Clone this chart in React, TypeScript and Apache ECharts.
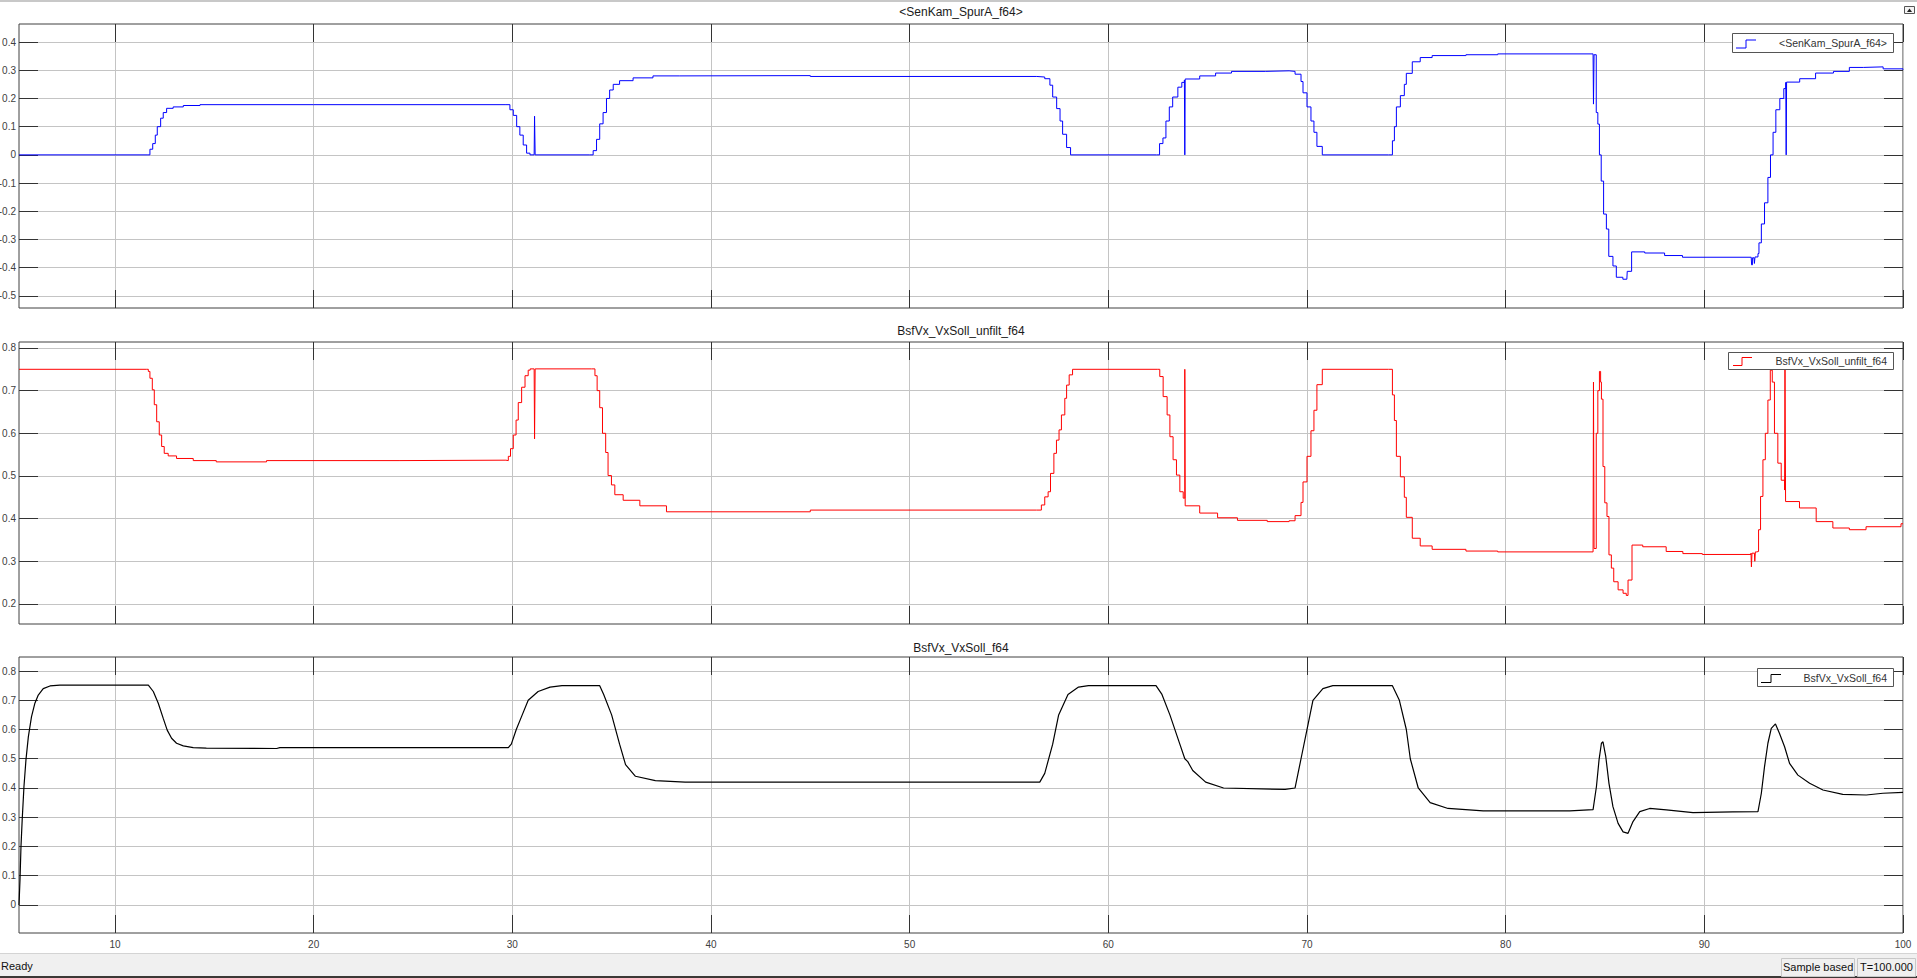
import React, { useEffect, useRef } from "react";
import * as echarts from "echarts";

// ---------- axis setup ----------
const X_MIN = 5.17;
const X_MAX = 100;
const xTickValues = [10, 20, 30, 40, 50, 60, 70, 80, 90, 100];

const panelTitles = ["<SenKam_SpurA_f64>", "BsfVx_VxSoll_unfilt_f64", "BsfVx_VxSoll_f64"];
const legendNames = ["<SenKam_SpurA_f64>", "BsfVx_VxSoll_unfilt_f64", "BsfVx_VxSoll_f64"];

const yTicks1 = [-0.5, -0.4, -0.3, -0.2, -0.1, 0, 0.1, 0.2, 0.3, 0.4];
const yTicks2 = [0.2, 0.3, 0.4, 0.5, 0.6, 0.7, 0.8];
const yTicks3 = [0, 0.1, 0.2, 0.3, 0.4, 0.5, 0.6, 0.7, 0.8];
const yRange1 = [-0.543, 0.464];
const yRange2 = [0.153, 0.814];
const yRange3 = [-0.096, 0.848];

// ---------- series 1: <SenKam_SpurA_f64> (blue) ----------
const blueT = [
  5.17, 11.66, 11.76, 11.9, 12.03, 12.13, 12.3, 12.43, 12.6, 12.93, 13.44, 14.28, 20, 29.68,
  29.88, 30.05, 30.22, 30.38, 30.55, 30.72, 30.89, 31.1, 31.12, 31.15, 33.9, 34.07, 34.24,
  34.4, 34.57, 34.74, 34.9, 35.08, 35.4, 36.08, 37.08, 38.43, 45, 56.4, 56.8, 57.06, 57.2,
  57.4, 57.57, 57.7, 57.9, 58.1, 62.42, 62.58, 62.75, 62.9, 63.07, 63.24, 63.5, 63.7, 63.83,
  63.85, 63.87, 64.6, 65.4, 66.2, 67.9, 69.1, 69.4, 69.7, 69.8, 70.0, 70.2, 70.35, 70.5,
  70.77, 74.1, 74.3, 74.4, 74.5, 74.7, 74.9, 75.0, 75.3, 75.7, 76.3, 78, 79.6, 84.4, 84.42,
  84.45, 84.56, 84.64, 84.72, 84.81, 84.93, 85.07, 85.19, 85.4, 85.57, 85.9, 86.1, 86.12,
  86.34, 87.0, 88.0, 88.9, 92.36, 92.38, 92.42, 92.5, 92.52, 92.55, 92.7, 92.75, 92.87,
  93.03, 93.2, 93.33, 93.46, 93.6, 93.8, 94.0, 94.1, 94.12, 94.14, 94.8, 95.6, 96.5, 97.3,
  98.0, 99.0, 100,
];
const blueV = [
  0, 0, 0.02, 0.04, 0.07, 0.1, 0.13, 0.15, 0.165, 0.17, 0.175, 0.178, 0.178, 0.178,
  0.16, 0.14, 0.1, 0.07, 0.035, 0.006, 0, 0, 0.137, 0, 0, 0.015, 0.055,
  0.11, 0.15, 0.2, 0.23, 0.25, 0.263, 0.273, 0.28, 0.281, 0.278, 0.276, 0.27, 0.247, 0.205,
  0.164, 0.12, 0.073, 0.026, 0, 0, 0.04, 0.06, 0.12, 0.17, 0.205, 0.24, 0.257, 0.265,
  0, 0.269, 0.28, 0.29, 0.296, 0.298, 0.296, 0.286, 0.26, 0.22, 0.17, 0.12, 0.08, 0.03,
  0, 0, 0.05, 0.1, 0.17, 0.21, 0.25, 0.289, 0.33, 0.345, 0.352, 0.355, 0.358, 0.358, 0.18,
  0.355, 0.15, 0.109, 0.0, -0.093, -0.21, -0.263, -0.36, -0.394, -0.434, -0.441, -0.44, -0.413,
  -0.344, -0.348, -0.357, -0.363, -0.365, -0.39, -0.365, -0.365, -0.385, -0.362, -0.35, -0.312, -0.245,
  -0.17, -0.08, 0.0, 0.08, 0.16, 0.2, 0.235, 0.257, 0, 0.258, 0.27, 0.29, 0.296, 0.31,
  0.312, 0.305, 0.302,
];

// ---------- series 2: BsfVx_VxSoll_unfilt_f64 (red) ----------
const redT = [
  5.17, 11.6, 11.68, 11.76, 11.88, 11.98, 12.1, 12.23, 12.35, 12.48, 12.68, 13.1, 13.94, 15.1,
  17.63, 24.3, 29.68, 29.8, 29.91, 30.05, 30.19, 30.3, 30.47, 30.64, 30.8, 30.9, 31.1, 31.12,
  31.15, 33.99, 34.16, 34.27, 34.4, 34.54, 34.7, 34.82, 34.99, 35.16, 35.58, 36.42, 37.76, 45,
  56.38, 56.63, 56.8, 56.97, 57.09, 57.26, 57.39, 57.52, 57.64, 57.81, 57.9, 58.03, 58.2,
  62.46, 62.59, 62.76, 62.96, 63.1, 63.26, 63.43, 63.6, 63.77, 63.85, 63.87, 64.6, 65.5, 66.5,
  68, 69.1, 69.4, 69.7, 69.8, 70.0, 70.2, 70.35, 70.5, 70.77, 74.1, 74.3, 74.4, 74.5, 74.7,
  74.9, 75.0, 75.3, 75.7, 76.3, 78, 79.6, 84.4, 84.42, 84.45, 84.56, 84.64, 84.72, 84.78,
  84.82, 84.9, 84.99, 85.1, 85.2, 85.32, 85.44, 85.66, 85.91, 86.07, 86.16, 86.36, 86.9,
  88.08, 88.92, 89.9, 92.35, 92.37, 92.4, 92.52, 92.54, 92.57, 92.64, 92.73, 92.83, 92.95,
  93.07, 93.2, 93.32, 93.42, 93.53, 93.7, 93.87, 94.04, 94.06, 94.09, 94.79, 95.63, 96.47,
  97.3, 98.14, 99.9, 100,
];
const redV = [
  0.75, 0.75, 0.745, 0.729, 0.702, 0.667, 0.627, 0.596, 0.569, 0.553, 0.547, 0.541, 0.536, 0.533,
  0.536, 0.537, 0.536, 0.546, 0.564, 0.596, 0.631, 0.672, 0.708, 0.735, 0.748, 0.751, 0.751, 0.587,
  0.751, 0.751, 0.735, 0.7, 0.66, 0.6, 0.555, 0.501, 0.479, 0.456, 0.443, 0.43, 0.416, 0.42,
  0.42, 0.432, 0.451, 0.463, 0.506, 0.553, 0.584, 0.608, 0.643, 0.682, 0.713, 0.737, 0.75,
  0.75, 0.733, 0.686, 0.643, 0.592, 0.538, 0.502, 0.463, 0.448, 0.75, 0.43, 0.413, 0.402, 0.396,
  0.393, 0.395, 0.407, 0.438, 0.486, 0.546, 0.606, 0.654, 0.714, 0.75, 0.75, 0.69, 0.63, 0.546, 0.498,
  0.45, 0.403, 0.354, 0.336, 0.328, 0.324, 0.322, 0.322, 0.72, 0.33, 0.6, 0.7, 0.745, 0.72,
  0.68, 0.522, 0.437, 0.405, 0.315, 0.284, 0.252, 0.233, 0.225, 0.22, 0.256, 0.338, 0.334,
  0.323, 0.318, 0.316, 0.319, 0.287, 0.319, 0.319, 0.3, 0.322, 0.323, 0.374, 0.452, 0.538,
  0.6, 0.678, 0.748, 0.72, 0.6, 0.53, 0.49, 0.467, 0.75, 0.44, 0.425, 0.393, 0.378,
  0.374, 0.381, 0.388, 0.388,
];

// ---------- series 3: BsfVx_VxSoll_f64 (black) ----------
const blackT = [
  5.17, 5.22, 5.27, 5.33, 5.42, 5.52, 5.64, 5.8, 5.97, 6.14, 6.39, 6.73, 7.23, 11.68, 11.93,
  12.18, 12.43, 12.63, 12.85, 13.1, 13.44, 13.94, 14.6, 18.14, 18.3, 24.34, 29.8, 29.95, 30.2,
  30.5, 30.8, 31.3, 31.9, 32.5, 34.4, 34.6, 35.0, 35.4, 35.7, 36.2, 37.2, 38.7, 56.55, 56.8,
  57.2, 57.5, 57.97, 58.5, 59, 62.4, 62.7, 63.1, 63.6, 63.85, 64.0, 64.25, 64.9, 65.8, 68.9,
  69.4, 69.7, 70.0, 70.3, 70.8, 71.3, 74.3, 74.65, 75.0, 75.2, 75.6, 76.2, 77.1, 78.87, 83.23,
  84.4, 84.57, 84.7, 84.82, 84.9, 85.04, 85.2, 85.4, 85.66, 85.91, 86.16, 86.41, 86.75, 87.25,
  88.09, 89.43, 91.44, 92.7, 92.87, 93.03, 93.2, 93.37, 93.58, 93.78, 94.04, 94.29, 94.71,
  95.3, 95.97, 96.97, 98.15, 98.99, 100,
];
const blackV = [
  0, 0.085, 0.2, 0.29, 0.405, 0.496, 0.575, 0.644, 0.69, 0.718, 0.74, 0.749, 0.752, 0.752, 0.73,
  0.69, 0.638, 0.598, 0.57, 0.553, 0.544, 0.538, 0.536, 0.535, 0.538, 0.538, 0.538, 0.55, 0.6,
  0.65, 0.7, 0.73, 0.745, 0.75, 0.75, 0.72, 0.65, 0.55, 0.48, 0.44, 0.425, 0.42, 0.42, 0.45,
  0.55, 0.65, 0.72, 0.745, 0.75, 0.75, 0.72, 0.65, 0.55, 0.5, 0.49, 0.46, 0.42, 0.4, 0.395,
  0.4, 0.5, 0.6, 0.7, 0.74, 0.75, 0.75, 0.7, 0.6, 0.5, 0.4, 0.35, 0.33, 0.322, 0.322,
  0.326, 0.405, 0.496, 0.553, 0.558, 0.507, 0.416, 0.336, 0.279, 0.25, 0.245, 0.285, 0.319, 0.33,
  0.325, 0.316, 0.318, 0.319, 0.382, 0.473, 0.553, 0.604, 0.619, 0.587, 0.541, 0.484, 0.444,
  0.416, 0.393, 0.378, 0.376, 0.382, 0.385,
];

const seriesColors = ["#0000ff", "#ff0000", "#000000"];

const zip = (t: number[], v: number[]) => t.map((x, i) => [x, v[i]]);

const FONT = "Arial, 'Liberation Sans', sans-serif";

export default function App() {
  const ref = useRef<HTMLDivElement>(null);

  useEffect(() => {
    if (!ref.current) return;
    const chart = echarts.init(ref.current, undefined, { renderer: "svg" });

    const grids = [
      { top: 24, height: 284 },
      { top: 342, height: 282 },
      { top: 657, height: 276 },
    ];
    const yRanges = [yRange1, yRange2, yRange3];
    const yTicks = [yTicks1, yTicks2, yTicks3];
    const fmt = (v: number) => String(Math.round(v * 10) / 10);

    const xAxis: any[] = [];
    const yAxis: any[] = [];
    grids.forEach((g, i) => {
      xAxis.push({
        type: "value", gridIndex: i, position: "bottom", min: X_MIN, max: X_MAX,
        axisLine: { show: false, onZero: false },
        axisTick: { show: true, inside: true, length: 18, customValues: xTickValues, lineStyle: { color: "#333", width: 1 } },
        axisLabel: { show: i === 2, customValues: xTickValues, margin: 6, fontSize: 10, color: "#404040", fontFamily: FONT, formatter: (v: number) => String(Math.round(v)) },
        splitLine: { show: true, lineStyle: { color: "#c4c4c4", width: 1 } },
      });
      xAxis.push({
        type: "value", gridIndex: i, position: "top", min: X_MIN, max: X_MAX,
        axisLine: { show: false, onZero: false },
        axisTick: { show: true, inside: true, length: 18, customValues: xTickValues, lineStyle: { color: "#333", width: 1 } },
        axisLabel: { show: false },
        splitLine: { show: false },
      });
      yAxis.push({
        type: "value", gridIndex: i, position: "left", min: yRanges[i][0], max: yRanges[i][1],
        axisLine: { show: false, onZero: false },
        axisTick: { show: true, inside: true, length: 19, customValues: yTicks[i], lineStyle: { color: "#333", width: 1 } },
        axisLabel: { show: true, customValues: yTicks[i], margin: 3, fontSize: 10, color: "#404040", fontFamily: FONT, formatter: fmt },
        splitLine: { show: true, lineStyle: { color: "#c4c4c4", width: 1 } },
      });
      yAxis.push({
        type: "value", gridIndex: i, position: "right", min: yRanges[i][0], max: yRanges[i][1],
        axisLine: { show: false, onZero: false },
        axisTick: { show: true, inside: true, length: 19, customValues: yTicks[i], lineStyle: { color: "#333", width: 1 } },
        axisLabel: { show: false },
        splitLine: { show: false },
      });
    });

    const datasets = [zip(blueT, blueV), zip(redT, redV), zip(blackT, blackV)];
    const series = datasets.map((d, i) => ({
      type: "line",
      name: legendNames[i],
      xAxisIndex: i * 2,
      yAxisIndex: i * 2,
      data: d,
      step: i < 2 ? "end" : false,
      smooth: false,
      showSymbol: false,
      symbol: "none",
      clip: true,
      lineStyle: { color: seriesColors[i], width: i === 2 ? 1.2 : 1 },
      itemStyle: { color: seriesColors[i] },
      z: 3,
    }));

    const titleYs = [12, 331, 648];
    const titles = panelTitles.map((t, i) => ({
      type: "text", x: 961, y: titleYs[i], z: 100,
      style: { text: t, fill: "#1a1a1a", fontSize: 12, fontFamily: FONT, align: "center", verticalAlign: "middle" },
    }));

    const legendBoxes = [
      { x: 1732, y: 33, w: 161, h: 19, ix0: 1736, ix1: 1746, ix2: 1756, lo: 48, hi: 40 },
      { x: 1728, y: 352, w: 165, h: 17, ix0: 1733, ix1: 1742, ix2: 1752, lo: 365.5, hi: 357.5 },
      { x: 1757, y: 668, w: 136, h: 18, ix0: 1761, ix1: 1771, ix2: 1781, lo: 682.5, hi: 674.5 },
    ];
    const legends = legendBoxes.map((b, i) => ({
      type: "group", z: 100,
      children: [
        { type: "rect", z: 100, shape: { x: b.x + 0.5, y: b.y + 0.5, width: b.w, height: b.h }, style: { fill: "#ffffff", stroke: "#555", lineWidth: 1 } },
        { type: "polyline", z: 101, shape: { points: [[b.ix0, b.lo], [b.ix1, b.lo], [b.ix1, b.hi], [b.ix2, b.hi]] }, style: { stroke: seriesColors[i], lineWidth: 1, fill: null } },
        { type: "text", z: 101, x: b.x + b.w - 6, y: b.y + b.h / 2 + 0.5, style: { text: legendNames[i], fill: "#333", fontSize: 10.5, fontFamily: FONT, align: "right", verticalAlign: "middle" } },
      ],
    }));

    const chrome: any[] = [
      { type: "line", z: 100, shape: { x1: 0, y1: 1, x2: 1917, y2: 1 }, style: { stroke: "#c8c8c8", lineWidth: 2 } },
      { type: "rect", z: 100, shape: { x: 1904.5, y: 6.5, width: 10, height: 7 }, style: { fill: "#f4f4f4", stroke: "#555", lineWidth: 1 } },
      { type: "polygon", z: 101, shape: { points: [[1907, 12], [1912, 12], [1909.5, 8.5]] }, style: { fill: "#222" } },
      { type: "rect", z: 100, shape: { x: 0, y: 953, width: 1917, height: 23 }, style: { fill: "#f0f0f0" } },
      { type: "line", z: 101, shape: { x1: 0, y1: 953.5, x2: 1917, y2: 953.5 }, style: { stroke: "#d4d4d4", lineWidth: 1 } },
      { type: "text", z: 101, x: 1, y: 966, style: { text: "Ready", fill: "#111", fontSize: 11, fontFamily: FONT, align: "left", verticalAlign: "middle" } },
      { type: "rect", z: 101, shape: { x: 1781.5, y: 958.5, width: 73, height: 18 }, style: { fill: "#f0f0f0", stroke: "#c8c8c8", lineWidth: 1 } },
      { type: "text", z: 102, x: 1783, y: 967, style: { text: "Sample based", fill: "#111", fontSize: 11, fontFamily: FONT, align: "left", verticalAlign: "middle" } },
      { type: "rect", z: 101, shape: { x: 1857.5, y: 958.5, width: 58, height: 18 }, style: { fill: "#f0f0f0", stroke: "#c8c8c8", lineWidth: 1 } },
      { type: "text", z: 102, x: 1860, y: 967, style: { text: "T=100.000", fill: "#111", fontSize: 11, fontFamily: FONT, align: "left", verticalAlign: "middle" } },
      { type: "rect", z: 100, shape: { x: 0, y: 976, width: 1917, height: 2 }, style: { fill: "#3c3836" } },
    ];

    chart.setOption({
      animation: false,
      backgroundColor: "#ffffff",
      textStyle: { fontFamily: FONT },
      grid: grids.map((g) => ({
        left: 19, right: 14, top: g.top, height: g.height,
        show: true, borderColor: "#404040", borderWidth: 1, backgroundColor: "#ffffff",
        containLabel: false, outerBoundsMode: "none",
      })),
      xAxis,
      yAxis,
      series,
      graphic: { elements: [...titles, ...legends, ...chrome] },
    } as any);

    return () => chart.dispose();
  }, []);

  return (
    <div
      ref={ref}
      style={{ position: "fixed", left: 0, top: 0, width: 1917, height: 978, background: "#fff" }}
    />
  );
}
